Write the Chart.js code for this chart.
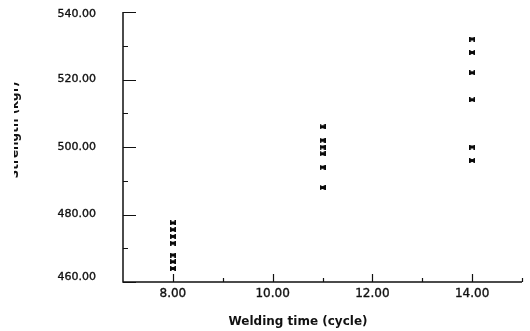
<!DOCTYPE html>
<html>
<head>
<meta charset="utf-8">
<script src="https://cdn.jsdelivr.net/npm/chart.js@4.4.1/dist/chart.umd.min.js"></script>
<style>
  html, body { margin: 0; padding: 0; background: #fff; }
  #wrap { width: 530px; height: 331px; }
</style>
</head>
<body>
<div id="wrap"><canvas id="c" width="530" height="331"></canvas></div>
<script>
// Weld strength measured at each welding time
const weldTimes = [8, 11, 14];
const strengthAt8 = [477.5, 475.5, 473.5, 471.5, 468, 466, 464];
const strengthAt11 = [506, 502, 500, 498, 494, 488];
const strengthAt14 = [532, 528, 522, 514, 500, 496];

// Axis ticks
const xMajorTicks = [8, 10, 12, 14];
const xMinorTicks = [9, 11, 13, 15];
const yMajorTicks = [460, 480, 500, 520, 540];
const yMinorTicks = [470, 490, 510, 530];

const xTitle = 'Welding time (cycle)';
const yTitle = 'Strength (kgf)';

const groups = [strengthAt8, strengthAt11, strengthAt14];
const points = [];
groups.forEach((vals, i) => vals.forEach(v => points.push({ x: weldTimes[i], y: v })));

// Bow-tie marker: a cross closed by short vertical bars
function makeMarker() {
  const w = 6, h = 5;
  const cv = document.createElement('canvas');
  cv.width = w; cv.height = h;
  const g = cv.getContext('2d');
  g.strokeStyle = '#0a0a0a';
  g.lineWidth = 1.6;
  g.beginPath();
  g.moveTo(0.7, 0); g.lineTo(0.7, h);
  g.moveTo(w - 0.7, 0); g.lineTo(w - 0.7, h);
  g.moveTo(0.5, 0.5); g.lineTo(w - 0.5, h - 0.5);
  g.moveTo(w - 0.5, 0.5); g.lineTo(0.5, h - 0.5);
  g.stroke();
  return cv;
}

// Filled text with a hairline outline so small labels read a little heavier
function heavyText(ctx, s, x, y) {
  ctx.fillText(s, x, y);
  ctx.strokeText(s, x, y);
}

const axesPlugin = {
  id: 'plotAxes',
  afterDraw(chart) {
    const { ctx, chartArea: a, scales: { x, y } } = chart;
    ctx.save();
    ctx.strokeStyle = '#111';
    ctx.fillStyle = '#111';
    ctx.lineWidth = 1.5;

    // axis lines
    ctx.beginPath();
    ctx.moveTo(a.left, a.top);
    ctx.lineTo(a.left, a.bottom);
    ctx.lineTo(a.right, a.bottom);
    ctx.stroke();

    // ticks point into the plot
    ctx.lineWidth = 1.2;
    ctx.beginPath();
    yMajorTicks.forEach(v => {
      const py = Math.round(y.getPixelForValue(v)) + 0.5;
      ctx.moveTo(a.left, py); ctx.lineTo(a.left + 13, py);
    });
    yMinorTicks.forEach(v => {
      const py = Math.round(y.getPixelForValue(v)) + 0.5;
      ctx.moveTo(a.left, py); ctx.lineTo(a.left + 5, py);
    });
    xMajorTicks.forEach(v => {
      const px = Math.round(x.getPixelForValue(v)) + 0.5;
      ctx.moveTo(px, a.bottom); ctx.lineTo(px, a.bottom - 8);
    });
    xMinorTicks.forEach(v => {
      const px = Math.round(x.getPixelForValue(v)) + 0.5;
      ctx.moveTo(px, a.bottom); ctx.lineTo(px, a.bottom - 4);
    });
    ctx.stroke();

    // tick labels
    ctx.lineWidth = 0.35;
    ctx.font = '11px "DejaVu Sans"';
    ctx.textAlign = 'right';
    ctx.textBaseline = 'middle';
    yMajorTicks.forEach(v => {
      let py = y.getPixelForValue(v);
      py = Math.min(Math.max(py, a.top + 2), a.bottom - 5);
      heavyText(ctx, v.toFixed(2), 96, py);
    });
    ctx.font = '12px "DejaVu Sans"';
    ctx.textAlign = 'center';
    xMajorTicks.forEach(v => {
      heavyText(ctx, v.toFixed(2), x.getPixelForValue(v), a.bottom + 12);
    });

    // axis titles
    ctx.font = 'bold 12px "DejaVu Sans"';
    ctx.fillText(xTitle, 298, 322);

    // vertical title runs off the left edge of the figure
    ctx.save();
    ctx.beginPath();
    ctx.rect(14, 0, 40, chart.height);
    ctx.clip();
    ctx.translate(18, 130);
    ctx.rotate(-Math.PI / 2);
    ctx.textBaseline = 'alphabetic';
    ctx.fillText(yTitle, 0, 0);
    ctx.restore();

    ctx.restore();
  }
};

new Chart(document.getElementById('c'), {
  type: 'scatter',
  data: {
    datasets: [{
      data: points,
      pointStyle: makeMarker(),
      pointRadius: 3,
      pointHoverRadius: 3
    }]
  },
  options: {
    responsive: false,
    animation: false,
    devicePixelRatio: 1,
    clip: false,
    layout: { padding: { left: 123, right: 8, top: 12, bottom: 49 } },
    plugins: { legend: { display: false }, tooltip: { enabled: false } },
    scales: {
      x: { type: 'linear', min: 7, max: 15, display: false },
      y: { type: 'linear', min: 460, max: 540, display: false }
    }
  },
  plugins: [axesPlugin]
});
</script>
</body>
</html>
